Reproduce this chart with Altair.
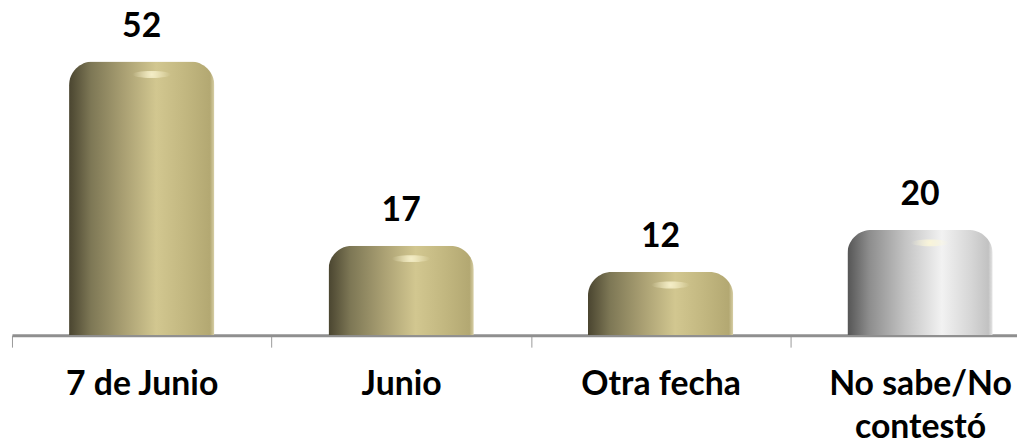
import altair as alt
import pandas as pd

categories = ["7 de Junio", "Junio", "Otra fecha", "No sabe/No contestó"]
values = [52, 17, 12, 20]
kinds = ["gold", "gold", "gold", "grey"]

df = pd.DataFrame({"cat": categories, "val": values, "kind": kinds})

FONT = "Lato"
FS = 34

gold = alt.LinearGradient(
    gradient="linear", x1=0, x2=1, y1=0, y2=0,
    stops=[
        alt.GradientStop(color="#4a4530", offset=0),
        alt.GradientStop(color="#7d7755", offset=0.15),
        alt.GradientStop(color="#aaa073", offset=0.38),
        alt.GradientStop(color="#d2c790", offset=0.6),
        alt.GradientStop(color="#c2b780", offset=0.8),
        alt.GradientStop(color="#b3a872", offset=0.97),
        alt.GradientStop(color="#d8d0a8", offset=1),
    ],
)
grey = alt.LinearGradient(
    gradient="linear", x1=0, x2=1, y1=0, y2=0,
    stops=[
        alt.GradientStop(color="#555555", offset=0),
        alt.GradientStop(color="#8d8d8d", offset=0.15),
        alt.GradientStop(color="#c4c4c4", offset=0.4),
        alt.GradientStop(color="#f2f2f2", offset=0.65),
        alt.GradientStop(color="#d6d6d6", offset=0.85),
        alt.GradientStop(color="#c2c2c2", offset=0.97),
        alt.GradientStop(color="#e6e6e6", offset=1),
    ],
)
shine = alt.RadialGradient(
    gradient="radial", x1=0.5, y1=0.5, r1=0, x2=0.5, y2=0.5, r2=0.5,
    stops=[
        alt.GradientStop(color="rgba(255,250,215,0.8)", offset=0),
        alt.GradientStop(color="rgba(255,250,215,0)", offset=1),
    ],
)

xscale = alt.Scale(domain=categories, range=[0, 1045], paddingInner=0, paddingOuter=0)
yscale = alt.Scale(domain=[0, 60])

label_expr = "datum.label == 'No sabe/No contestó' ? ['No sabe/No', 'contestó'] : datum.label"

x_enc = alt.X(
    "cat:N", scale=xscale, sort=categories, title=None,
    axis=alt.Axis(
        labelAngle=0, labelFont=FONT, labelFontSize=FS, labelFontWeight="bold",
        labelColor="#000000", labelLineHeight=43, labelPadding=21, labelLimit=400,
        labelExpr=label_expr, tickBand="extent", tickSize=12, tickColor="#9a9a9a",
        tickWidth=1, domainColor="#8f8f8f", domainWidth=3, labelBaseline="top",
    ),
)
y_enc = alt.Y("val:Q", scale=yscale, axis=None)

base = alt.Chart(df)

gold_bars = base.transform_filter(alt.datum.kind == "gold").mark_bar(
    color=gold, cornerRadiusTopLeft=24, cornerRadiusTopRight=24,
    width=alt.RelativeBandSize(0.56),
).encode(x=x_enc, y=y_enc)

grey_bars = base.transform_filter(alt.datum.kind == "grey").mark_bar(
    color=grey, cornerRadiusTopLeft=24, cornerRadiusTopRight=24,
    width=alt.RelativeBandSize(0.56),
).encode(x=x_enc, y=y_enc)

highlights = base.mark_point(
    shape="M -1 0 A 1 0.18 0 1 0 1 0 A 1 0.18 0 1 0 -1 0 Z",
    size=1500, filled=True, fill=shine, opacity=1, strokeWidth=0,
    xOffset=10, yOffset=13,
).encode(x=x_enc, y=y_enc)

texts = base.mark_text(
    font=FONT, fontSize=FS, fontWeight="bold", color="#000000",
    baseline="alphabetic", dy=-25,
).encode(x=x_enc, y=y_enc, text="val:Q")

chart = alt.layer(gold_bars, grey_bars, highlights, texts).properties(
    width=1012, height=318,
    autosize=alt.AutoSizeParams(type="none"),
    padding={"left": 4, "top": 10, "right": 0, "bottom": 102},
).configure_view(stroke=None)

chart.save("out.html", embed_options={"renderer": "svg", "actions": False})
